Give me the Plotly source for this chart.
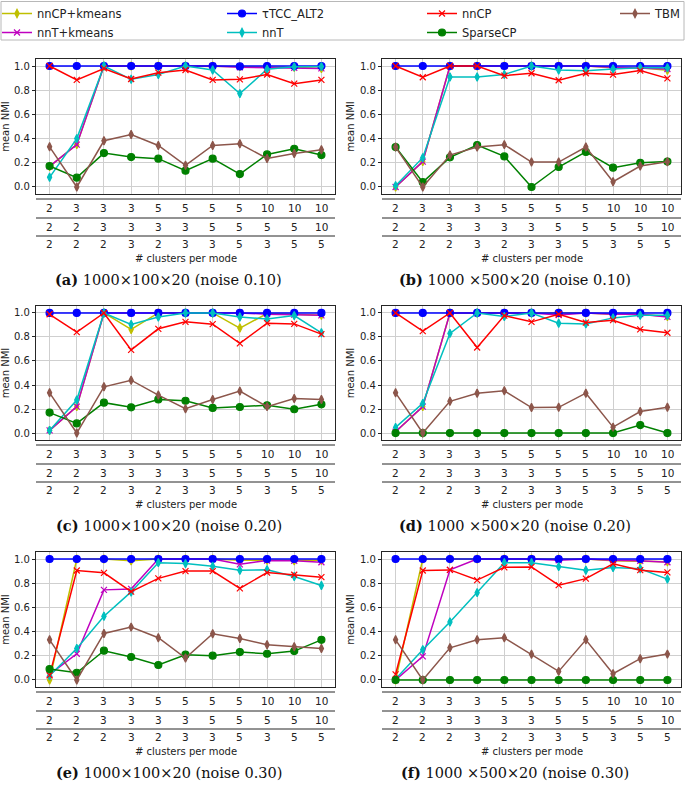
import plotly.graph_objects as go

# ---------------- data ----------------
X_POS = list(range(11))
ROW1 = ["2", "3", "3", "3", "5", "5", "5", "5", "10", "10", "10"]
ROW2 = ["2", "2", "3", "3", "3", "3", "5", "5", "5", "5", "10"]
ROW3 = ["2", "2", "2", "3", "2", "3", "3", "5", "3", "5", "5"]
Y_TICKS = [0.0, 0.2, 0.4, 0.6, 0.8, 1.0]
Y_TICKTEXT = ["0.0", "0.2", "0.4", "0.6", "0.8", "1.0"]

METHODS = ["nnCP+kmeans", "nnT+kmeans", "τTCC_ALT2", "nnT", "nnCP", "SparseCP", "TBM"]

# panel (a) 1000x100x20 noise 0.10
A_NNCP_KM = [0.17, 0.35, 1.0, 1.0, 1.0, 1.0, 1.0, 0.995, 0.99, 0.99, 0.98]
A_NNT_KM = [0.17, 0.35, 1.0, 1.0, 1.0, 1.0, 1.0, 0.99, 0.985, 0.985, 0.98]
A_TTCC = [1.0, 1.0, 1.0, 1.0, 1.0, 1.0, 1.0, 0.997, 1.0, 1.0, 1.0]
A_NNT = [0.08, 0.40, 1.0, 0.89, 0.93, 1.0, 0.967, 0.772, 0.973, 0.993, 0.995]
A_NNCP = [1.0, 0.885, 0.98, 0.893, 0.945, 0.967, 0.885, 0.89, 0.93, 0.854, 0.885]
A_SPARSECP = [0.173, 0.077, 0.28, 0.247, 0.234, 0.135, 0.234, 0.107, 0.269, 0.316, 0.264]
A_TBM = [0.332, 0.0, 0.382, 0.434, 0.343, 0.179, 0.343, 0.357, 0.236, 0.277, 0.308]

# panel (b) 1000x500x20 noise 0.10
B_NNCP_KM = [0.0, 0.21, 1.0, 1.0, 1.0, 1.0, 1.0, 1.0, 0.985, 0.985, 0.965]
B_NNT_KM = [0.0, 0.21, 1.0, 1.0, 1.0, 1.0, 1.0, 1.0, 0.99, 0.985, 0.975]
B_TTCC = [1.0, 1.0, 1.0, 1.0, 1.0, 1.0, 1.0, 1.0, 1.0, 1.0, 1.0]
B_NNT = [0.011, 0.242, 0.909, 0.909, 0.93, 1.0, 0.967, 0.96, 0.975, 0.986, 0.986]
B_NNCP = [1.0, 0.907, 1.0, 1.0, 0.92, 0.94, 0.882, 0.94, 0.929, 0.962, 0.898]
B_SPARSECP = [0.33, 0.04, 0.245, 0.347, 0.253, 0.0, 0.165, 0.29, 0.16, 0.2, 0.21]
B_TBM = [0.33, 0.0, 0.264, 0.33, 0.35, 0.206, 0.206, 0.33, 0.044, 0.173, 0.209]

# panel (c) 1000x100x20 noise 0.20
C_NNCP_KM = [0.022, 0.22, 1.0, 0.863, 1.0, 1.0, 1.0, 0.874, 0.995, 0.99, 0.98]
C_NNT_KM = [0.022, 0.22, 1.0, 1.0, 1.0, 1.0, 1.0, 1.0, 0.99, 0.986, 0.98]
C_TTCC = [1.0, 1.0, 1.0, 1.0, 1.0, 1.0, 1.0, 1.0, 1.0, 1.0, 1.0]
C_NNT = [0.022, 0.275, 1.0, 0.904, 0.967, 1.0, 1.0, 0.967, 0.95, 0.978, 0.835]
C_NNCP = [0.989, 0.84, 1.0, 0.692, 0.868, 0.926, 0.907, 0.747, 0.915, 0.909, 0.824]
C_SPARSECP = [0.17, 0.08, 0.253, 0.214, 0.28, 0.269, 0.209, 0.217, 0.231, 0.198, 0.239]
C_TBM = [0.335, 0.0, 0.385, 0.44, 0.316, 0.203, 0.28, 0.349, 0.22, 0.288, 0.28]

# panel (d) 1000x500x20 noise 0.20
D_NNCP_KM = [0.011, 0.22, 1.0, 1.0, 1.0, 1.0, 1.0, 1.0, 0.99, 0.99, 0.97]
D_NNT_KM = [0.011, 0.22, 1.0, 1.0, 1.0, 1.0, 0.983, 1.0, 0.99, 0.99, 0.967]
D_TTCC = [1.0, 1.0, 1.0, 1.0, 1.0, 1.0, 1.0, 1.0, 1.0, 1.0, 1.0]
D_NNT = [0.047, 0.247, 0.83, 1.0, 0.97, 1.0, 0.915, 0.909, 0.959, 0.981, 0.981]
D_NNCP = [1.0, 0.849, 1.0, 0.712, 0.978, 0.926, 0.989, 0.92, 0.94, 0.863, 0.835]
D_SPARSECP = [0.0, 0.0, 0.0, 0.0, 0.0, 0.0, 0.0, 0.0, 0.0, 0.066, 0.0]
D_TBM = [0.335, 0.0, 0.264, 0.332, 0.352, 0.212, 0.214, 0.332, 0.049, 0.179, 0.214]

# panel (e) 1000x100x20 noise 0.30
E_NNCP_KM = [0.0, 1.0, 1.0, 0.986, 1.0, 1.0, 1.0, 0.99, 0.99, 0.986, 0.99]
E_NNT_KM = [0.047, 0.217, 0.745, 0.753, 1.0, 1.0, 1.0, 0.956, 0.988, 0.986, 0.973]
E_TTCC = [1.0, 1.0, 1.0, 1.0, 1.0, 1.0, 1.0, 1.0, 1.0, 1.0, 1.0]
E_NNT = [0.035, 0.261, 0.527, 0.728, 0.97, 0.962, 0.94, 0.907, 0.912, 0.855, 0.781]
E_NNCP = [0.038, 0.905, 0.886, 0.73, 0.84, 0.9, 0.9, 0.757, 0.888, 0.87, 0.85]
E_SPARSECP = [0.091, 0.06, 0.242, 0.19, 0.124, 0.209, 0.201, 0.231, 0.217, 0.239, 0.332]
E_TBM = [0.332, 0.0, 0.385, 0.437, 0.349, 0.181, 0.382, 0.343, 0.291, 0.275, 0.261]

# panel (f) 1000x500x20 noise 0.30
F_NNCP_KM = [0.0, 1.0, 1.0, 1.0, 1.0, 1.0, 1.0, 1.0, 0.986, 0.984, 0.978]
F_NNT_KM = [0.0, 0.195, 0.91, 1.0, 1.0, 1.0, 0.99, 1.0, 0.99, 0.986, 0.973]
F_TTCC = [1.0, 1.0, 1.0, 1.0, 1.0, 1.0, 1.0, 1.0, 1.0, 1.0, 1.0]
F_NNT = [0.008, 0.25, 0.48, 0.722, 0.97, 0.97, 0.937, 0.907, 0.93, 0.92, 0.834]
F_NNCP = [0.047, 0.905, 0.91, 0.826, 0.931, 0.935, 0.784, 0.838, 0.96, 0.908, 0.889]
F_SPARSECP = [0.0, 0.0, 0.0, 0.0, 0.0, 0.0, 0.0, 0.0, 0.0, 0.0, 0.0]
F_TBM = [0.332, 0.0, 0.266, 0.332, 0.349, 0.212, 0.071, 0.332, 0.052, 0.176, 0.214]

CAPTIONS = [
    ("(a)", "1000×100×20 (noise 0.10)"),
    ("(b)", "1000 ×500×20 (noise 0.10)"),
    ("(c)", "1000×100×20 (noise 0.20)"),
    ("(d)", "1000 ×500×20 (noise 0.20)"),
    ("(e)", "1000×100×20 (noise 0.30)"),
    ("(f)", "1000 ×500×20 (noise 0.30)"),
]

PANEL_SERIES = [
    [A_NNCP_KM, A_NNT_KM, A_TTCC, A_NNT, A_NNCP, A_SPARSECP, A_TBM],
    [B_NNCP_KM, B_NNT_KM, B_TTCC, B_NNT, B_NNCP, B_SPARSECP, B_TBM],
    [C_NNCP_KM, C_NNT_KM, C_TTCC, C_NNT, C_NNCP, C_SPARSECP, C_TBM],
    [D_NNCP_KM, D_NNT_KM, D_TTCC, D_NNT, D_NNCP, D_SPARSECP, D_TBM],
    [E_NNCP_KM, E_NNT_KM, E_TTCC, E_NNT, E_NNCP, E_SPARSECP, E_TBM],
    [F_NNCP_KM, F_NNT_KM, F_TTCC, F_NNT, F_NNCP, F_SPARSECP, F_TBM],
]

# ---------------- styles ----------------
W, H = 685, 794
STYLE = {
    "nnCP+kmeans": dict(color="#bfbf00", symbol="diamond-tall", size=6, legend="legend"),
    "nnT+kmeans": dict(color="#bf00bf", symbol="x-thin", size=6, legend="legend"),
    "τTCC_ALT2": dict(color="#0000ff", symbol="circle", size=7, legend="legend2"),
    "nnT": dict(color="#00bfbf", symbol="diamond-tall", size=6, legend="legend2"),
    "nnCP": dict(color="#ff0000", symbol="x-thin", size=6, legend="legend3"),
    "SparseCP": dict(color="#008000", symbol="circle", size=7, legend="legend3"),
    "TBM": dict(color="#8c564b", symbol="diamond-tall", size=6, legend="legend4"),
}

X_DOMAINS = [(36 / W, 335 / W), (382 / W, 681 / W)]
Y_PIX = [(59, 194), (306, 440), (552, 687)]
FONT = "DejaVu Sans"
GRID = "#cfcfcf"
AXC = "#262626"

fig = go.Figure()
annotations = []
shapes = []

for i, series in enumerate(PANEL_SERIES):
    n = i + 1
    xa = "x" if n == 1 else f"x{n}"
    ya = "y" if n == 1 else f"y{n}"
    col, row = i % 2, i // 2
    for m, vals in zip(METHODS, series):
        st = STYLE[m]
        fig.add_trace(go.Scatter(
            x=X_POS, y=vals, xaxis=xa, yaxis=ya, mode="lines+markers", name=m,
            line=dict(color=st["color"], width=1.5),
            marker=dict(color=st["color"], symbol=st["symbol"], size=st["size"],
                        line=dict(color=st["color"], width=1.2)),
            showlegend=(i == 0), legend=st["legend"], cliponaxis=False,
        ))
    ytop, ybot = Y_PIX[row]
    xdom = X_DOMAINS[col]
    ydom = (1 - ybot / H, 1 - ytop / H)
    fig.layout[f"xaxis{'' if n == 1 else n}"] = dict(
        domain=xdom, anchor=ya, range=[-0.5, 10.5], tickvals=X_POS, automargin=False,
        showticklabels=False, ticks="", showgrid=True, gridcolor=GRID, gridwidth=1,
        zeroline=False, showline=True, mirror=True, linecolor=AXC, linewidth=1.2,
    )
    fig.layout[f"yaxis{'' if n == 1 else n}"] = dict(
        domain=ydom, anchor=xa, range=[-0.058, 1.058], tickvals=Y_TICKS, ticktext=Y_TICKTEXT,
        automargin=False,
        tickfont=dict(size=10, color="#222"), ticks="outside", ticklen=3, tickcolor=AXC,
        showgrid=True, gridcolor=GRID, gridwidth=1, zeroline=False,
        showline=True, mirror=True, linecolor=AXC, linewidth=1.2,
        title=dict(text="mean NMI", font=dict(size=10, color="#222"), standoff=3),
    )
    dref_x = f"{xa} domain"
    dref_y = f"{ya} domain"
    for labels, off in ((ROW1, 14), (ROW2, 33), (ROW3, 50)):
        for xv, lab in zip(X_POS, labels):
            annotations.append(dict(
                x=xv, y=0, xref=xa, yref=dref_y, text=lab, showarrow=False,
                yanchor="middle", yshift=-off, font=dict(size=10.5, color="#222"),
            ))
    for off in (5, 24, 42):
        shapes.append(dict(
            type="line", xref=dref_x, yref=dref_y, x0=0, x1=1,
            ysizemode="pixel", yanchor=0, y0=-off, y1=-off,
            line=dict(color=AXC, width=1),
        ))
    annotations.append(dict(
        x=0.5, y=0, xref=dref_x, yref=dref_y, text="# clusters per mode",
        showarrow=False, yanchor="middle", yshift=-64, font=dict(size=10, color="#222"),
    ))
    lab, desc = CAPTIONS[i]
    annotations.append(dict(
        x=0.5, y=0, xref=dref_x, yref=dref_y, text=f"<b>{lab}</b> {desc}",
        showarrow=False, yanchor="middle", yshift=-85, xshift=-17,
        font=dict(size=14.5, family="DejaVu Serif", color="#111"),
    ))

# legend frame
shapes.append(dict(type="rect", xref="paper", yref="paper", layer="below",
                   x0=1 / W, x1=684 / W, y0=1 - 40 / H, y1=1 - 1.5 / H,
                   line=dict(color="#b8b8b8", width=1), fillcolor="rgba(0,0,0,0)"))

leg_common = dict(y=1 + 1 / H, yanchor="top", xanchor="left", bgcolor="rgba(0,0,0,0)",
                  font=dict(size=11.5, family=FONT, color="#222"), tracegroupgap=0,
                  borderwidth=0, itemwidth=30)
fig.update_layout(
    width=W, height=H, margin=dict(l=0, r=0, t=0, b=0, autoexpand=False),
    paper_bgcolor="white", plot_bgcolor="white",
    font=dict(family=FONT, color="#222"),
    annotations=annotations, shapes=shapes,
    legend=dict(x=-3 / W, **leg_common),
    legend2=dict(x=222 / W, **leg_common),
    legend3=dict(x=422 / W, **leg_common),
    legend4=dict(x=615 / W, **leg_common),
)

fig.write_html("out.html", config={"displayModeBar": False},
               post_script="document.body.style.margin='0';")
